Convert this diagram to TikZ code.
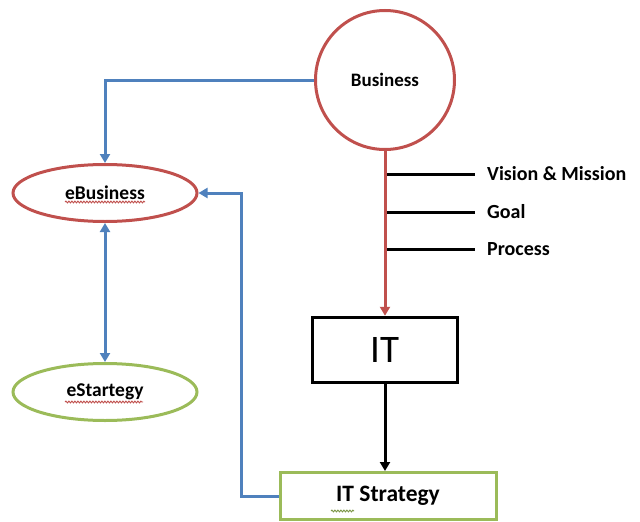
\documentclass[tikz,border=0pt]{standalone}
\usepackage{fontspec}
\setmainfont{Carlito}
\usetikzlibrary{arrows.meta,shapes.geometric,decorations.pathmorphing}
\definecolor{myred}{HTML}{C0504D}
\definecolor{myblue}{HTML}{4F81BD}
\definecolor{mygreen}{HTML}{9BBB59}
\begin{document}
\begin{tikzpicture}[x=1pt,y=-1pt,
  redshape/.style={draw=myred,line width=3pt},
  greenshape/.style={draw=mygreen,line width=3pt},
  ell/.style={ellipse,minimum width=184pt,minimum height=57pt,inner sep=0pt,font=\fontsize{19.5}{21}\selectfont\bfseries},
  conn/.style={line width=3pt,-{Triangle[width=10pt,length=9pt]}},
  blueconn/.style={conn,draw=myblue,color=myblue},
  branch/.style={line width=3pt,draw=black},
  blabel/.style={anchor=west,inner sep=0pt,font=\fontsize{20}{22}\selectfont\bfseries},
  squig/.style={decorate,decoration={snake,amplitude=0.9pt,segment length=3pt},line width=0.9pt}
]
\useasboundingbox (0,0) rectangle (640,522);
\node[circle,redshape,minimum size=139pt,font=\fontsize{19}{21}\selectfont\bfseries] (bus) at (385,80) {Business};
\node[ell,redshape] (ebus) at (105,193) {eBusiness};
\node[ell,greenshape] (estr) at (105,392) {eStartegy};
\node[draw=black,line width=3.5pt,minimum width=145pt,minimum height=65pt,font=\fontsize{39}{41}\selectfont] (it) at (385,350) {IT};
\node[greenshape,minimum width=216pt,minimum height=47pt,font=\fontsize{23.5}{25}\selectfont\bfseries] (its) at (388,496) {IT Strategy};
% branches
\coordinate (b1) at (385,174); \coordinate (b1e) at (475,174);
\coordinate (b2) at (385,212); \coordinate (b2e) at (475,212);
\coordinate (b3) at (385,249); \coordinate (b3e) at (475,249);
\draw[branch] (b1) -- (b1e); \draw[branch] (b2) -- (b2e); \draw[branch] (b3) -- (b3e);
\node[blabel] (l1) at (487,174) {Vision \& Mission};
\node[blabel] (l2) at (487,212) {Goal};
\node[blabel] (l3) at (487,249) {Process};
% connectors
\draw[conn,draw=myred,color=myred] (bus.south) -- (it.north);
\draw[conn,draw=black] (it.south) -- (it.south |- its.north);
\draw[blueconn] (bus.west) -| (ebus.north);
\draw[line width=3pt,draw=myblue,color=myblue,{Triangle[width=10pt,length=9pt]}-{Triangle[width=10pt,length=9pt]}] (ebus.south) -- (estr.north);
\coordinate (c1) at (241,193);
\draw[blueconn] (its.west) -| (c1) -- (ebus.east);
% spell-check squiggles
\draw[squig,myred] (65,202) -- (145,202);
\draw[squig,myred] (65,402) -- (143,402);
\draw[squig,mygreen!80!black] (331,511) -- (354,511);
\end{tikzpicture}
\end{document}
